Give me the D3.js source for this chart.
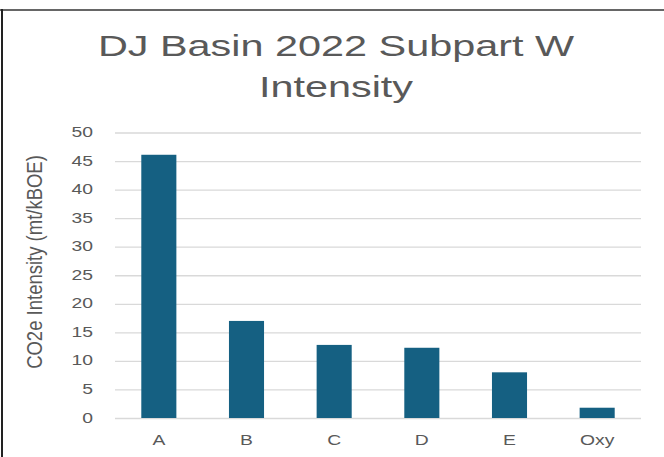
<!DOCTYPE html>
<html>
<head>
<meta charset="utf-8">
<script src="https://cdn.jsdelivr.net/npm/d3@7"></script>
<style>
  html, body { margin: 0; padding: 0; background: #fff; }
  svg { display: block; }
  text { font-family: "Liberation Sans", Arial, sans-serif; }
</style>
</head>
<body>
<div id="chart"></div>
<script>
const categories = ["A", "B", "C", "D", "E", "Oxy"];
const values = [46.1, 17.0, 12.8, 12.3, 8.0, 1.8];
const yTicks = [0, 5, 10, 15, 20, 25, 30, 35, 40, 45, 50];
const titleLines = ["DJ Basin 2022 Subpart W", "Intensity"];
const yAxisTitle = "CO2e Intensity (mt/kBOE)";

const W = 664, H = 457;
const SX = 1.38; // horizontal stretch of the source image

const svg = d3.select("#chart").append("svg")
  .attr("width", W).attr("height", H);

svg.append("rect").attr("width", W).attr("height", H).attr("fill", "#fff");

// frame lines
svg.append("line").attr("x1", 0).attr("x2", W).attr("y1", 10).attr("y2", 10)
  .attr("stroke", "#666").attr("stroke-width", 2);
svg.append("line").attr("x1", 2).attr("x2", 2).attr("y1", 9).attr("y2", H)
  .attr("stroke", "#222").attr("stroke-width", 2);

const x = d3.scaleBand().domain(categories).range([115, 641])
  .paddingInner(0.6).paddingOuter(0.3);
const y = d3.scaleLinear().domain([0, 50]).range([418, 132.5]);

function stretchedText(parent, px, py, str, opts) {
  const g = parent.append("g")
    .attr("transform", `translate(${px},${py}) scale(${opts.sx || SX},1)` + (opts.rotate ? ` rotate(${opts.rotate})` : ""));
  return g.append("text")
    .attr("x", 0).attr("y", 0)
    .attr("text-anchor", opts.anchor || "middle")
    .attr("font-size", opts.size)
    .attr("fill", opts.fill || "#595959")
    .text(str);
}

// gridlines via axis
const yAxis = d3.axisLeft(y).tickValues(yTicks).tickSize(-(641 - 115)).tickFormat("");
const ga = svg.append("g").attr("transform", "translate(115,0)").call(yAxis);
ga.select(".domain").remove();
ga.selectAll(".tick line").attr("stroke", "#d9d9d9").attr("stroke-width", 1.3);

// tick labels
yTicks.forEach(t => {
  stretchedText(svg, 93, y(t) + 4.5, String(t), { size: 14, anchor: "end" });
});

// bars
svg.append("g").selectAll("rect").data(categories).join("rect")
  .attr("x", d => x(d))
  .attr("width", x.bandwidth())
  .attr("y", (d, i) => y(values[i]))
  .attr("height", (d, i) => y(0) - y(values[i]))
  .attr("fill", "#156082");

// category labels
categories.forEach(c => {
  stretchedText(svg, x(c) + x.bandwidth() / 2, 445, c, { size: 14 });
});

// title
stretchedText(svg, 336, 56, titleLines[0], { size: 30 });
stretchedText(svg, 336, 97, titleLines[1], { size: 30 });

// y axis title
stretchedText(svg, 42, 262, yAxisTitle, { size: 18.5, rotate: -90, sx: 1.2 });
</script>
</body>
</html>
